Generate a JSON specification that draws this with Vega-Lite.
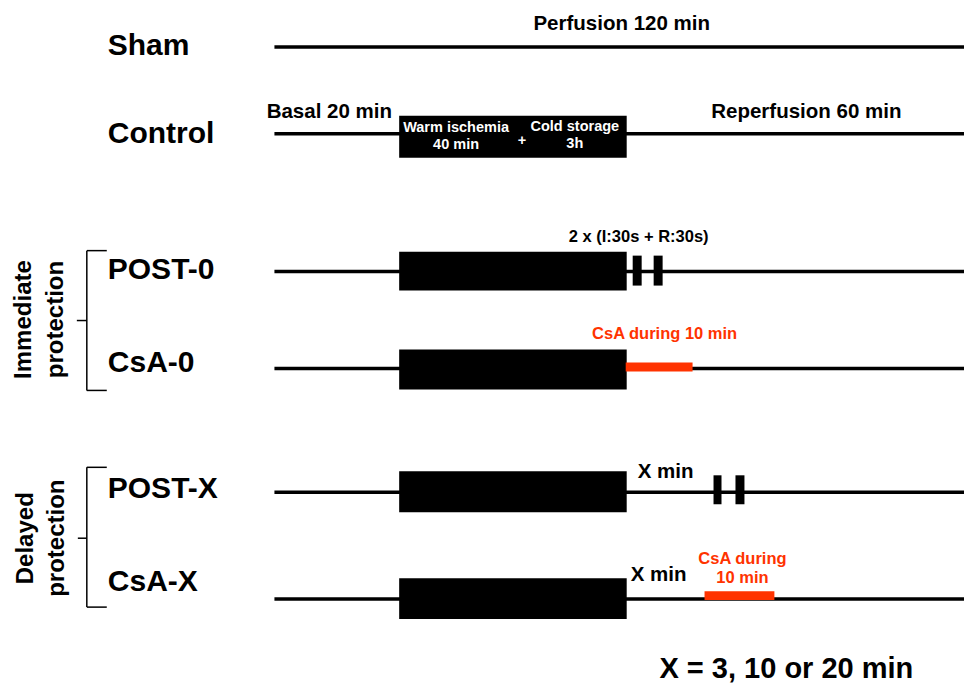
{
  "$schema": "https://vega.github.io/schema/vega-lite/v6.json",
  "width": 966,
  "height": 684,
  "padding": 0,
  "autosize": {"type": "fit", "contains": "padding"},
  "background": "white",
  "config": {"view": {"stroke": null}, "text": {"font": "Liberation Sans", "fontWeight": "bold"}},
  "datasets": {
    "timelines": [
      {"track": "Sham", "start": 275, "end": 966, "y": 47},
      {"track": "Control", "start": 275, "end": 966, "y": 134},
      {"track": "POST-0", "start": 275, "end": 966, "y": 272},
      {"track": "CsA-0", "start": 275, "end": 966, "y": 369},
      {"track": "POST-X", "start": 275, "end": 966, "y": 493},
      {"track": "CsA-X", "start": 275, "end": 966, "y": 600}
    ],
    "ischemia": [
      {"track": "Control", "x1": 400, "x2": 628, "y1": 116, "y2": 158},
      {"track": "POST-0", "x1": 400, "x2": 628, "y1": 252, "y2": 291},
      {"track": "CsA-0", "x1": 400, "x2": 628, "y1": 350, "y2": 390},
      {"track": "POST-X", "x1": 400, "x2": 628, "y1": 472, "y2": 513},
      {"track": "CsA-X", "x1": 400, "x2": 628, "y1": 579, "y2": 620}
    ],
    "postcond": [
      {"track": "POST-0", "x1": 634, "x2": 643, "y1": 256, "y2": 286},
      {"track": "POST-0", "x1": 655, "x2": 664, "y1": 256, "y2": 286},
      {"track": "POST-X", "x1": 715, "x2": 723, "y1": 476, "y2": 505},
      {"track": "POST-X", "x1": 737, "x2": 746, "y1": 476, "y2": 505}
    ],
    "csa": [
      {"track": "CsA-0", "x1": 627, "x2": 694, "y1": 363, "y2": 372},
      {"track": "CsA-X", "x1": 706, "x2": 776, "y1": 592, "y2": 601}
    ],
    "brackets": [
      {"group": "Immediate", "x1": 87, "x2": 87, "y1": 251, "y2": 391},
      {"group": "Immediate", "x1": 87, "x2": 107, "y1": 251, "y2": 251},
      {"group": "Immediate", "x1": 87, "x2": 107, "y1": 391, "y2": 391},
      {"group": "Immediate", "x1": 77, "x2": 87, "y1": 321, "y2": 321},
      {"group": "Delayed", "x1": 87, "x2": 87, "y1": 468, "y2": 608},
      {"group": "Delayed", "x1": 87, "x2": 107, "y1": 468, "y2": 468},
      {"group": "Delayed", "x1": 87, "x2": 107, "y1": 608, "y2": 608},
      {"group": "Delayed", "x1": 78, "x2": 87, "y1": 539, "y2": 539}
    ],
    "trackLabels": [
      {"label": "Sham", "x": 108, "y": 46},
      {"label": "Control", "x": 108, "y": 134},
      {"label": "POST-0", "x": 108, "y": 270},
      {"label": "CsA-0", "x": 108, "y": 364},
      {"label": "POST-X", "x": 108, "y": 490},
      {"label": "CsA-X", "x": 108, "y": 583}
    ],
    "phaseLabels": [
      {"label": "Perfusion 120 min", "x": 623, "y": 24},
      {"label": "Basal 20 min", "x": 330, "y": 112},
      {"label": "Reperfusion 60 min", "x": 808, "y": 112},
      {"label": "X min", "x": 667, "y": 473},
      {"label": "X min", "x": 660, "y": 576}
    ],
    "smallLabels": [
      {"label": "2 x (I:30s + R:30s)", "x": 640, "y": 237}
    ],
    "boxLabels": [
      {"label": "Warm ischemia", "x": 457, "y": 128},
      {"label": "40 min", "x": 457, "y": 145},
      {"label": "+", "x": 523, "y": 141},
      {"label": "Cold storage", "x": 576, "y": 127},
      {"label": "3h", "x": 576, "y": 144}
    ],
    "csaLabels": [
      {"label": "CsA during 10 min", "x": 666, "y": 334},
      {"label": "CsA during", "x": 744, "y": 560},
      {"label": "10 min", "x": 744, "y": 579}
    ],
    "groupLabels": [
      {"label": "Immediate", "x": 24, "y": 320},
      {"label": "protection", "x": 56, "y": 320},
      {"label": "Delayed", "x": 26, "y": 539},
      {"label": "protection", "x": 57, "y": 539}
    ],
    "footnote": [
      {"label": "X = 3, 10 or 20 min", "x": 788, "y": 670}
    ]
  },
  "layer": [
    {
      "data": {"name": "timelines"},
      "mark": {"type": "rule", "color": "black", "strokeWidth": 3.5},
      "encoding": {
        "x": {"field": "start", "type": "quantitative", "scale": {"domain": [0, 966], "nice": false, "zero": false}, "axis": null},
        "x2": {"field": "end"},
        "y": {"field": "y", "type": "quantitative", "scale": {"domain": [0, 684], "nice": false, "zero": false, "reverse": true}, "axis": null}
      }
    },
    {
      "data": {"name": "ischemia"},
      "mark": {"type": "rect", "color": "black"},
      "encoding": {
        "x": {"field": "x1", "type": "quantitative"},
        "x2": {"field": "x2"},
        "y": {"field": "y1", "type": "quantitative"},
        "y2": {"field": "y2"}
      }
    },
    {
      "data": {"name": "postcond"},
      "mark": {"type": "rect", "color": "black"},
      "encoding": {
        "x": {"field": "x1", "type": "quantitative"},
        "x2": {"field": "x2"},
        "y": {"field": "y1", "type": "quantitative"},
        "y2": {"field": "y2"}
      }
    },
    {
      "data": {"name": "csa"},
      "mark": {"type": "rect", "color": "#ff3300"},
      "encoding": {
        "x": {"field": "x1", "type": "quantitative"},
        "x2": {"field": "x2"},
        "y": {"field": "y1", "type": "quantitative"},
        "y2": {"field": "y2"}
      }
    },
    {
      "data": {"name": "brackets"},
      "mark": {"type": "rule", "color": "black", "strokeWidth": 1.5},
      "encoding": {
        "x": {"field": "x1", "type": "quantitative"},
        "x2": {"field": "x2"},
        "y": {"field": "y1", "type": "quantitative"},
        "y2": {"field": "y2"}
      }
    },
    {
      "data": {"name": "trackLabels"},
      "mark": {"type": "text", "align": "left", "baseline": "middle", "fontSize": 30, "color": "black"},
      "encoding": {
        "x": {"field": "x", "type": "quantitative"},
        "y": {"field": "y", "type": "quantitative"},
        "text": {"field": "label"}
      }
    },
    {
      "data": {"name": "phaseLabels"},
      "mark": {"type": "text", "align": "center", "baseline": "middle", "fontSize": 20.5, "color": "black"},
      "encoding": {
        "x": {"field": "x", "type": "quantitative"},
        "y": {"field": "y", "type": "quantitative"},
        "text": {"field": "label"}
      }
    },
    {
      "data": {"name": "smallLabels"},
      "mark": {"type": "text", "align": "center", "baseline": "middle", "fontSize": 16.5, "color": "black"},
      "encoding": {
        "x": {"field": "x", "type": "quantitative"},
        "y": {"field": "y", "type": "quantitative"},
        "text": {"field": "label"}
      }
    },
    {
      "data": {"name": "boxLabels"},
      "mark": {"type": "text", "align": "center", "baseline": "middle", "fontSize": 14.5, "color": "white"},
      "encoding": {
        "x": {"field": "x", "type": "quantitative"},
        "y": {"field": "y", "type": "quantitative"},
        "text": {"field": "label"}
      }
    },
    {
      "data": {"name": "csaLabels"},
      "mark": {"type": "text", "align": "center", "baseline": "middle", "fontSize": 16.5, "color": "#ff3300"},
      "encoding": {
        "x": {"field": "x", "type": "quantitative"},
        "y": {"field": "y", "type": "quantitative"},
        "text": {"field": "label"}
      }
    },
    {
      "data": {"name": "groupLabels"},
      "mark": {"type": "text", "align": "center", "baseline": "middle", "fontSize": 24, "angle": 270, "color": "black"},
      "encoding": {
        "x": {"field": "x", "type": "quantitative"},
        "y": {"field": "y", "type": "quantitative"},
        "text": {"field": "label"}
      }
    },
    {
      "data": {"name": "footnote"},
      "mark": {"type": "text", "align": "center", "baseline": "middle", "fontSize": 29, "color": "black"},
      "encoding": {
        "x": {"field": "x", "type": "quantitative"},
        "y": {"field": "y", "type": "quantitative"},
        "text": {"field": "label"}
      }
    }
  ]
}
